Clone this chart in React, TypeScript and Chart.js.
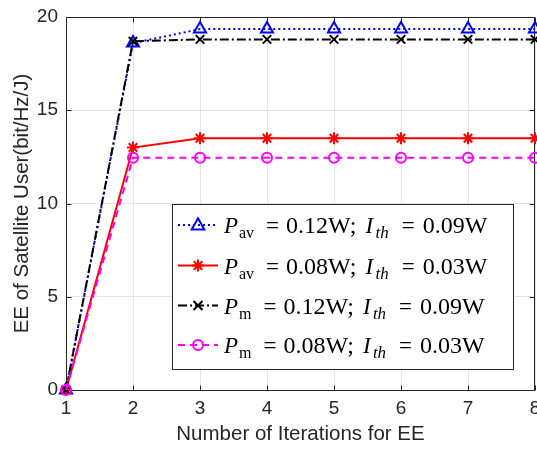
import React, { useEffect, useRef } from "react";
import { Chart, registerables } from "chart.js";

Chart.register(...registerables);

const iterations = [1, 2, 3, 4, 5, 6, 7, 8];
const eePav012 = [0, 18.6, 19.35, 19.35, 19.35, 19.35, 19.35, 19.35];
const eePav008 = [0, 13.0, 13.5, 13.5, 13.5, 13.5, 13.5, 13.5];
const eePm012 = [0, 18.7, 18.8, 18.8, 18.8, 18.8, 18.8, 18.8];
const eePm008 = [0, 12.45, 12.45, 12.45, 12.45, 12.45, 12.45, 12.45];
const xTicks = [1, 2, 3, 4, 5, 6, 7, 8];
const yTicks = [0, 5, 10, 15, 20];

const legendSub = ["av", "av", "m", "m"];
const legendPower = ["0.12W", "0.08W", "0.12W", "0.08W"];
const legendInterference = ["0.09W", "0.03W", "0.09W", "0.03W"];

const xTitle = "Number of Iterations for EE";
const yTitle = "EE of Satellite User(bit/Hz/J)";

const seriesStyles = [
  { color: "#0000ff", dash: [2, 3], point: "triangle", radius: 7, order: 3 },
  { color: "#ff0000", dash: [], point: "star", radius: 6, order: 2 },
  { color: "#000000", dash: [9, 3, 2, 3], point: "crossRot", radius: 6, order: 1 },
  { color: "#ff00ff", dash: [7, 5], point: "circle", radius: 5, order: 0 },
];
const seriesValues = [eePav012, eePav008, eePm012, eePm008];

const SANS = "'Liberation Sans', Arial, Helvetica, sans-serif";
const SERIF = "'Liberation Serif', 'Times New Roman', serif";
const AXIS = "#262626";

function drawMarker(ctx: CanvasRenderingContext2D, style: string, x: number, y: number, r: number) {
  ctx.beginPath();
  if (style === "triangle") {
    const h = r * 1.6;
    ctx.moveTo(x, y - h * 0.6);
    ctx.lineTo(x + r * 0.9, y + h * 0.4);
    ctx.lineTo(x - r * 0.9, y + h * 0.4);
    ctx.closePath();
  } else if (style === "star") {
    for (let i = 0; i < 4; i++) {
      const a = (i * Math.PI) / 4;
      ctx.moveTo(x - Math.cos(a) * r, y - Math.sin(a) * r);
      ctx.lineTo(x + Math.cos(a) * r, y + Math.sin(a) * r);
    }
  } else if (style === "crossRot") {
    const d = r * 0.75;
    ctx.moveTo(x - d, y - d);
    ctx.lineTo(x + d, y + d);
    ctx.moveTo(x + d, y - d);
    ctx.lineTo(x - d, y + d);
  } else {
    ctx.arc(x, y, r, 0, Math.PI * 2);
  }
  ctx.stroke();
}

const framePlugin = {
  id: "frame",
  beforeDatasetsDraw(chart: any) {
    const { ctx, chartArea: a, scales } = chart;
    ctx.save();
    ctx.strokeStyle = AXIS;
    ctx.lineWidth = 1;
    const L = Math.round(a.left) + 0.5;
    const R = Math.round(a.right) - 0.5;
    const T = Math.round(a.top) + 0.5;
    const B = Math.round(a.bottom) + 0.5;
    ctx.beginPath();
    ctx.rect(L, T, R - L, B - T);
    ctx.stroke();
    ctx.beginPath();
    for (const v of xTicks) {
      const px = Math.round(scales.x.getPixelForValue(v)) + 0.5;
      ctx.moveTo(px, B);
      ctx.lineTo(px, B - 5);
      ctx.moveTo(px, T);
      ctx.lineTo(px, T + 5);
    }
    for (const v of yTicks) {
      const py = Math.round(scales.y.getPixelForValue(v)) + 0.5;
      ctx.moveTo(L, py);
      ctx.lineTo(L + 5, py);
      ctx.moveTo(R, py);
      ctx.lineTo(R - 5, py);
    }
    ctx.stroke();
    ctx.restore();
  },
};

const legendPlugin = {
  id: "mathLegend",
  afterDraw(chart: any) {
    const ctx: CanvasRenderingContext2D = chart.ctx;
    const box = { left: 172, top: 204, right: 514, bottom: 370 };
    ctx.save();
    ctx.fillStyle = "#ffffff";
    ctx.fillRect(box.left, box.top, box.right - box.left, box.bottom - box.top);
    ctx.strokeStyle = AXIS;
    ctx.lineWidth = 1;
    ctx.strokeRect(box.left + 0.5, box.top + 0.5, box.right - box.left - 1, box.bottom - box.top - 1);

    const rowY = [225, 265.5, 305.5, 345];
    for (let i = 0; i < 4; i++) {
      const s = seriesStyles[i];
      const cy = rowY[i];
      ctx.strokeStyle = s.color;
      ctx.lineWidth = 2;
      ctx.setLineDash(s.dash);
      ctx.beginPath();
      ctx.moveTo(178, cy);
      ctx.lineTo(218, cy);
      ctx.stroke();
      ctx.setLineDash([]);
      drawMarker(ctx, s.point, 198, cy, s.radius);

      const base = cy + 8;
      ctx.fillStyle = "#000000";
      ctx.textBaseline = "alphabetic";
      ctx.textAlign = "left";
      let x = 224;
      ctx.font = `italic 23px ${SERIF}`;
      ctx.fillText("P", x, base);
      x += 15;
      ctx.font = `16px ${SERIF}`;
      ctx.fillText(legendSub[i], x, base + 5);
      x += ctx.measureText(legendSub[i]).width + 10;
      ctx.font = `23px ${SERIF}`;
      ctx.textAlign = "center";
      ctx.fillText("=", x + 8.5, base);
      ctx.textAlign = "left";
      x += 22;
      ctx.font = `24px ${SERIF}`;
      ctx.fillText(legendPower[i] + ";", x, base);
      x += ctx.measureText(legendPower[i] + ";").width + 9;
      ctx.font = `italic 23px ${SERIF}`;
      ctx.fillText("I", x, base);
      x += 10;
      ctx.font = `italic 17px ${SERIF}`;
      ctx.fillText("th", x, base + 5);
      x += ctx.measureText("th").width + 11;
      ctx.font = `23px ${SERIF}`;
      ctx.textAlign = "center";
      ctx.fillText("=", x + 8.5, base);
      ctx.textAlign = "left";
      x += 23;
      ctx.font = `24px ${SERIF}`;
      ctx.fillText(legendInterference[i], x, base);
    }
    ctx.restore();
  },
};

export default function App() {
  const canvasRef = useRef<HTMLCanvasElement | null>(null);

  useEffect(() => {
    document.body.style.margin = "0";
    const canvas = canvasRef.current;
    if (!canvas) return;
    const datasets = seriesValues.map((vals, i) => {
      const s = seriesStyles[i];
      return {
        label: `series${i}`,
        data: iterations.map((it, k) => ({ x: it, y: vals[k] })),
        borderColor: s.color,
        backgroundColor: "rgba(0,0,0,0)",
        borderWidth: 2,
        borderDash: s.dash,
        pointStyle: s.point,
        pointRadius: s.radius,
        pointBorderWidth: 2,
        pointBorderColor: s.color,
        pointBackgroundColor: "rgba(0,0,0,0)",
        tension: 0,
        clip: false as any,
        order: s.order,
      };
    });
    const chart = new Chart(canvas, {
      type: "line",
      data: { datasets },
      options: {
        animation: false,
        responsive: false,
        devicePixelRatio: 1,
        layout: { autoPadding: false, padding: { left: 0, right: 2, top: 17, bottom: 0 } },
        plugins: { legend: { display: false }, tooltip: { enabled: false } },
        events: [],
        scales: {
          x: {
            type: "linear",
            min: 1,
            max: 8,
            afterBuildTicks: (scale: any) => {
              scale.ticks = xTicks.map((v) => ({ value: v }));
            },
            afterFit: (scale: any) => {
              scale.height = 60;
              scale.paddingLeft = 0;
              scale.paddingRight = 0;
            },
            grid: { color: "#e4e4e4", drawTicks: false, lineWidth: 1 },
            border: { display: false },
            ticks: {
              padding: 7,
              color: AXIS,
              font: { family: SANS, size: 19 },
              maxRotation: 0,
              autoSkip: false,
            },
            title: {
              display: true,
              text: xTitle,
              color: AXIS,
              font: { family: SANS, size: 20.5 },
              padding: { top: 0, bottom: 3 },
            },
          },
          y: {
            type: "linear",
            min: 0,
            max: 20,
            afterBuildTicks: (scale: any) => {
              scale.ticks = yTicks.map((v) => ({ value: v }));
            },
            afterFit: (scale: any) => {
              scale.width = 66;
              scale.paddingTop = 0;
              scale.paddingBottom = 0;
            },
            grid: { color: "#e4e4e4", drawTicks: false, lineWidth: 1 },
            border: { display: false },
            ticks: {
              padding: 8,
              color: AXIS,
              font: { family: SANS, size: 19 },
              autoSkip: false,
            },
            title: {
              display: true,
              text: yTitle,
              color: AXIS,
              font: { family: SANS, size: 20.5 },
              padding: { top: 10, bottom: 0 },
            },
          },
        },
      },
      plugins: [framePlugin, legendPlugin],
    });
    return () => chart.destroy();
  }, []);

  return (
    <div style={{ width: 537, height: 450, overflow: "hidden" }}>
      <canvas ref={canvasRef} width={537} height={450} style={{ display: "block" }} />
    </div>
  );
}
